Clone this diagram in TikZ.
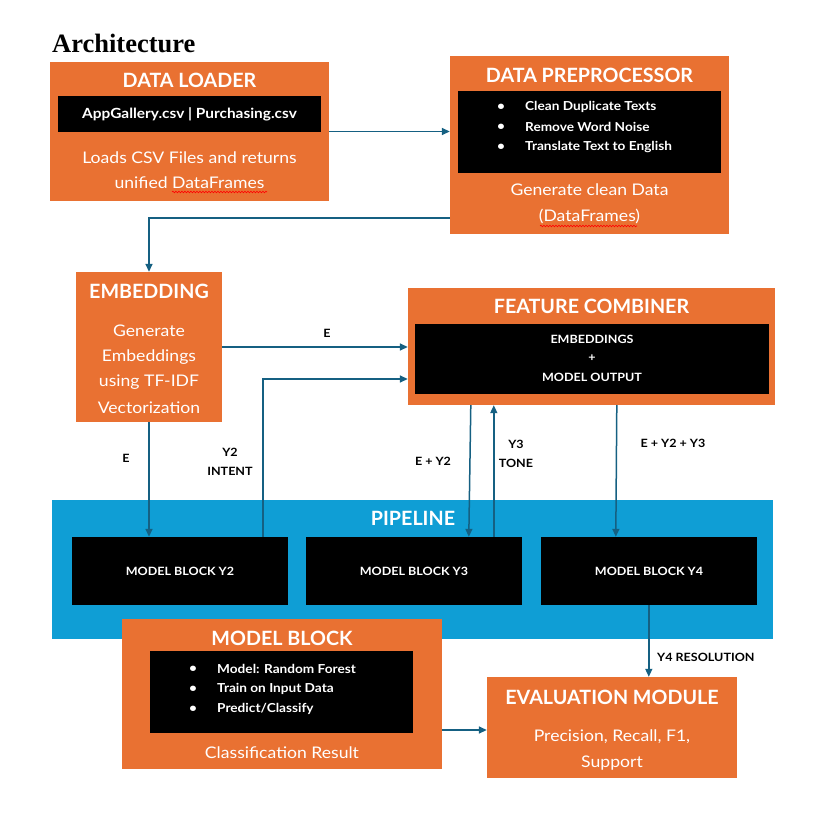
\documentclass[tikz,border=0pt]{standalone}
\usepackage{fontspec}
\setmainfont{Lato}[FakeStretch=1.1]
\newfontfamily\ttlfont{Lato}
\newfontfamily\titlefont{Liberation Serif}
\usetikzlibrary{arrows.meta,decorations.pathmorphing,calc}
\definecolor{orng}{HTML}{E97132}
\definecolor{pblue}{HTML}{0F9ED5}
\definecolor{arr}{HTML}{156082}
\begin{document}
\begin{tikzpicture}[x=1pt,y=-1pt,
  obox/.style={fill=orng,draw=none,inner sep=0pt},
  kbox/.style={fill=black,draw=none,inner sep=0pt},
  ttl/.style={text=white,font=\ttlfont\bfseries\fontsize{19.7}{23}\selectfont,inner sep=0pt},
  body/.style={text=white,font=\fontsize{16}{20}\selectfont,inner sep=0pt},
  inner/.style={text=white,font=\bfseries\fontsize{14}{16}\selectfont,inner sep=0pt},
  bul/.style={text=white,font=\bfseries\fontsize{12.4}{14}\selectfont,inner sep=0pt},
  small/.style={text=white,font=\bfseries\fontsize{11.4}{13}\selectfont,inner sep=0pt},
  lbl/.style={text=black,font=\bfseries\fontsize{11.4}{13}\selectfont,inner sep=0pt},
  conn/.style={draw=arr,line width=1.5pt},
  arrow/.style={conn,-{Triangle[length=8pt,width=7pt]}},
  squig/.style={draw=red,line width=0.6pt,decorate,decoration={snake,segment length=3pt,amplitude=0.8pt}}
]
\useasboundingbox (0,0) rectangle (815,827);
\fill[white] (0,0) rectangle (815,827);

% title
\node[anchor=base west,inner sep=0pt,font=\titlefont\bfseries\fontsize{26.5}{30}\selectfont] (title) at (52,52) {Architecture};

% data loader
\node[obox,minimum width=279pt,minimum height=139pt] (loader) at (189.5,131.5) {};
\node[kbox,minimum width=263pt,minimum height=36pt] (loaderin) at (189.5,114) {};
\node[ttl] (loadert) at (189.5,80) {DATA LOADER};
\node[inner] (loaderc) at (189.5,114) {AppGallery.csv | Purchasing.csv};
\node[body] (loaderb1) at (189.5,158) {Loads CSV Files and returns};
\node[body] (loaderb2) at (189.5,183) {unified DataFrames};
\draw[squig] (172,192) -- (267,192);

% data preprocessor
\node[obox,minimum width=279pt,minimum height=178pt] (prep) at (589.5,145) {};
\node[kbox,minimum width=263pt,minimum height=82pt] (prepin) at (589.5,132) {};
\node[ttl] (prept) at (589.5,75) {DATA PREPROCESSOR};
\node[bul] (pb1) at (501,107) {•};
\node[bul] (pb2) at (501,127) {•};
\node[bul] (pb3) at (501,147) {•};
\node[bul,anchor=west] (pt1) at (525,107) {Clean Duplicate Texts};
\node[bul,anchor=west] (pt2) at (525,127) {Remove Word Noise};
\node[bul,anchor=west] (pt3) at (525,147) {Translate Text to English};
\node[body] (prepb1) at (589.5,190) {Generate clean Data};
\node[body] (prepb2) at (589.5,216) {(DataFrames)};
\draw[squig] (540,226) -- (637,226);

% embedding
\node[obox,minimum width=146pt,minimum height=150pt] (emb) at (149,347) {};
\node[ttl] (embt) at (149,291) {EMBEDDING};
\node[body] (embb1) at (149,331) {Generate};
\node[body] (embb2) at (149,357) {Embeddings};
\node[body] (embb3) at (149,382) {using TF-IDF};
\node[body] (embb4) at (149,408) {Vectorization};

% feature combiner
\node[obox,minimum width=367pt,minimum height=117pt] (fc) at (591.5,346.5) {};
\node[kbox,minimum width=354pt,minimum height=70pt] (fcin) at (592,359) {};
\node[ttl] (fct) at (591.5,306) {FEATURE COMBINER};
\node[small] (fc1) at (592,339) {EMBEDDINGS};
\node[small] (fc2) at (592,358) {+};
\node[small] (fc3) at (592,377) {MODEL OUTPUT};

% pipeline
\node[fill=pblue,draw=none,inner sep=0pt,minimum width=721pt,minimum height=139pt] (pipe) at (412.5,569.5) {};
\node[ttl] (pipet) at (413,518) {PIPELINE};
\node[kbox,minimum width=216pt,minimum height=68pt] (y2) at (180,571) {};
\node[kbox,minimum width=216pt,minimum height=68pt] (y3) at (414,571) {};
\node[kbox,minimum width=216pt,minimum height=68pt] (y4) at (649,571) {};
\node[small] (y2t) at (180,571) {MODEL BLOCK Y2};
\node[small] (y3t) at (414,571) {MODEL BLOCK Y3};
\node[small] (y4t) at (649,571) {MODEL BLOCK Y4};

% model block
\node[obox,minimum width=320pt,minimum height=150pt] (mb) at (282,694) {};
\node[kbox,minimum width=263pt,minimum height=82pt] (mbin) at (281.5,692) {};
\node[ttl] (mbt) at (282,638) {MODEL BLOCK};
\node[bul] (mb1) at (193,669) {•};
\node[bul] (mb2) at (193,689) {•};
\node[bul] (mb3) at (193,709) {•};
\node[bul,anchor=west] (mt1) at (217,669) {Model: Random Forest};
\node[bul,anchor=west] (mt2) at (217,689) {Train on Input Data};
\node[bul,anchor=west] (mt3) at (217,709) {Predict/Classify};
\node[body] (mbb) at (282,753) {Classification Result};

% evaluation
\node[obox,minimum width=250pt,minimum height=101pt] (eval) at (612,727.5) {};
\node[ttl] (evalt) at (612,697) {EVALUATION MODULE};
\node[body] (evalb1) at (612,737) {Precision, Recall, F1,};
\node[body] (evalb2) at (612,763) {Support};

% connectors
\draw[arrow] (loader.east) -- (loader.east -| prep.west);
\draw[arrow] ($(prep.south west)+(0,-16)$) -| (emb.north);
\draw[arrow] (emb.east) -- (emb.east -| fc.west);
\node[lbl] (lE1) at (327,333) {E};
\draw[arrow] ($(y2.north west)+(191,0)$) |- ($(fc.west)+(0,32.5)$);
\node[lbl] (lY2a) at (230,452) {Y2};
\node[lbl] (lY2b) at (230,471) {INTENT};
\draw[arrow] (emb.south) -- (emb.south |- y2.north);
\node[lbl] (lE2) at (126,458) {E};
\draw[arrow] ($(fc.south west)+(63,0)$) -- ($(y3.north west)+(163,0)$);
\node[lbl] (lEY2) at (433,461) {E + Y2};
\draw[arrow] ($(y3.north west)+(188,0)$) -- ($(fc.south west)+(86,0)$);
\node[lbl] (lY3a) at (516,444) {Y3};
\node[lbl] (lY3b) at (516,463) {TONE};
\draw[arrow] ($(fc.south west)+(209,0)$) -- ($(y4.north west)+(75,0)$);
\node[lbl] (lEY23) at (673,443) {E + Y2 + Y3};
\draw[arrow] ($(y4.south west)+(108,0)$) -- ($(eval.north west)+(162,0)$);
\node[lbl,anchor=west] (lY4) at (657,657) {Y4 RESOLUTION};
\draw[arrow] ($(mb.east)+(0,36)$) -- ($(eval.west)+(0,2.5)$);
\end{tikzpicture}
\end{document}
